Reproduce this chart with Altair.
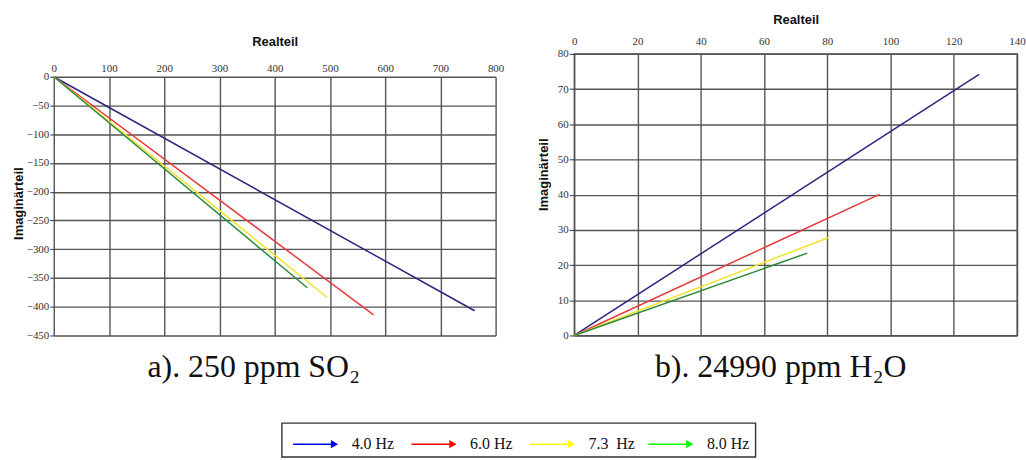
import altair as alt
import pandas as pd

# ---------------- data ----------------
series = ["4.0 Hz", "6.0 Hz", "7.3 Hz", "8.0 Hz"]
line_colors = ["#2b2580", "#e8393a", "#efe42a", "#2e8b3e"]
legend_colors = ["#0000ff", "#ff0000", "#ffff00", "#00ff00"]
legend_labels = ["4.0 Hz", "6.0 Hz", "7.3\u00a0 Hz", "8.0 Hz"]

# panel a) 250 ppm SO2 : end points of each line (start at origin)
so2_re_end = [762, 579, 495, 459]
so2_im_end = [-407, -414, -384, -367]
# panel b) 24990 ppm H2O
h2o_re_end = [128, 96.5, 80.7, 73.7]
h2o_im_end = [74.2, 40.1, 27.9, 23.4]

so2_ticks_x = list(range(0, 801, 100))
so2_ticks_y = list(range(-450, 1, 50))
h2o_ticks_x = list(range(0, 141, 20))
h2o_ticks_y = list(range(0, 81, 10))


def make_df(re_end, im_end):
    rows = []
    for s, c, re, im in zip(series, line_colors, re_end, im_end):
        rows.append({"series": s, "col": c, "pt": 0, "re": 0.0, "im": 0.0})
        rows.append({"series": s, "col": c, "pt": 1, "re": re, "im": im})
    return pd.DataFrame(rows)


df_a = make_df(so2_re_end, so2_im_end)
df_b = make_df(h2o_re_end, h2o_im_end)

LABEL_FONT = "Liberation Serif"
TITLE_FONT = "Liberation Sans"
GRID = "#555555"
H = 283          # common panel frame height
TOP_A = 23       # panel a) plot starts lower inside its frame


def panel(df, xdom, ydom, xt, yt, w, yrange, xoffset, caption, cap_dx,
          lp_x, tp_x, tp_y, tick_y, title_y, view):
    return alt.Chart(df).mark_line(strokeWidth=1.5).encode(
        x=alt.X("re:Q", scale=alt.Scale(domain=xdom, nice=False, zero=False),
                axis=alt.Axis(orient="top", values=xt, title="Realteil",
                              offset=xoffset,
                              titleFont=TITLE_FONT, titleFontWeight="bold",
                              titleFontSize=13, titleColor="#111",
                              titlePadding=tp_x,
                              labelFont=LABEL_FONT, labelFontSize=11,
                              labelColor="#333", labelPadding=lp_x,
                              labelFlush=False, labelOverlap=False,
                              ticks=False, domain=False, grid=True,
                              gridColor=GRID, gridWidth=1.4, gridOpacity=1)),
        y=alt.Y("im:Q", scale=alt.Scale(domain=ydom, range=yrange,
                                         nice=False, zero=False),
                axis=alt.Axis(values=yt, title="Imaginärteil",
                              titleFont=TITLE_FONT, titleFontWeight="bold",
                              titleFontSize=13, titleColor="#111",
                              titlePadding=tp_y, titleY=title_y,
                              labelFont=LABEL_FONT, labelFontSize=11,
                              labelColor="#333", labelPadding=1,
                              labelFlush=False, labelOverlap=False,
                              tickSize=tick_y, tickColor="#333",
                              domain=False, grid=True, gridColor=GRID,
                              gridWidth=1.4, gridOpacity=1)),
        color=alt.Color("col:N", scale=None),
        detail="series:N",
        order="pt:Q",
    ).properties(
        width=w, height=H, view=view,
        title=alt.TitleParams(caption, orient="bottom", anchor="middle",
                              frame="group", dx=cap_dx, offset=12,
                              font=LABEL_FONT, fontSize=32,
                              fontWeight="normal", color="#111"),
    )


left = panel(df_a, [0, 800], [-450, 0], so2_ticks_x, so2_ticks_y, 444,
             [H, TOP_A], -TOP_A, "a). 250 ppm SO₂", -21, 3, 14, 1, 4,
             TOP_A + 127, alt.ViewBackground(stroke="transparent"))
right = panel(df_b, [0, 140], [0, 80], h2o_ticks_x, h2o_ticks_y, 445,
              [H, 0], 0, "b). 24990 ppm H₂O", -15, 7, 10, 7, 5, 121,
              alt.ViewBackground(stroke="#4a4a4a", strokeWidth=1.4))

# ---------------- legend box ----------------
leg_df = pd.DataFrame({
    "name": legend_labels,
    "col": legend_colors,
    "idx": list(range(len(legend_labels))),
})
lx = alt.Scale(domain=[0, 4], nice=False, zero=False)
ly = alt.Scale(domain=[-1, 1], nice=False, zero=False)
# invisible right-hand axis: only reserves room so the centred box sits
# where the reference's does
ly_axis = alt.Axis(orient="right", title=" ", titleFontSize=14,
                   titlePadding=28, labels=False, ticks=False, domain=False,
                   grid=False)
leg_base = alt.Chart(leg_df).transform_calculate(
    x0="datum.idx + 0.095", x1="datum.idx + 0.42",
    xh="datum.idx + 0.445", xt="datum.idx + 0.59", row="-0.25"
)
leg_rule = leg_base.mark_rule(strokeWidth=1.4).encode(
    x=alt.X("x0:Q", scale=lx, axis=None), x2="x1:Q",
    y=alt.Y("row:Q", scale=ly, axis=ly_axis),
    color=alt.Color("col:N", scale=None),
)
leg_head = leg_base.mark_point(shape="triangle-right", filled=True, size=70,
                               opacity=1).encode(
    x=alt.X("xh:Q", scale=lx, axis=None),
    y=alt.Y("row:Q", scale=ly, axis=ly_axis),
    color=alt.Color("col:N", scale=None),
)
leg_text = leg_base.mark_text(align="left", baseline="middle",
                              font=LABEL_FONT, fontSize=16,
                              color="#111").encode(
    x=alt.X("xt:Q", scale=lx, axis=None),
    y=alt.Y("row:Q", scale=ly, axis=ly_axis),
    text="name:N",
)
legend = (leg_rule + leg_head + leg_text).properties(
    width=476, height=34,
    view=alt.ViewBackground(stroke="#333333", strokeWidth=1.4))

top = alt.hconcat(left, right, spacing=32)
chart = alt.vconcat(top, legend, spacing=38, center=True).properties(
    padding={"left": 11, "top": 11, "right": 0, "bottom": 0}
).configure(background="white")

chart.save("out.html", embed_options={"renderer": "svg", "actions": False})
